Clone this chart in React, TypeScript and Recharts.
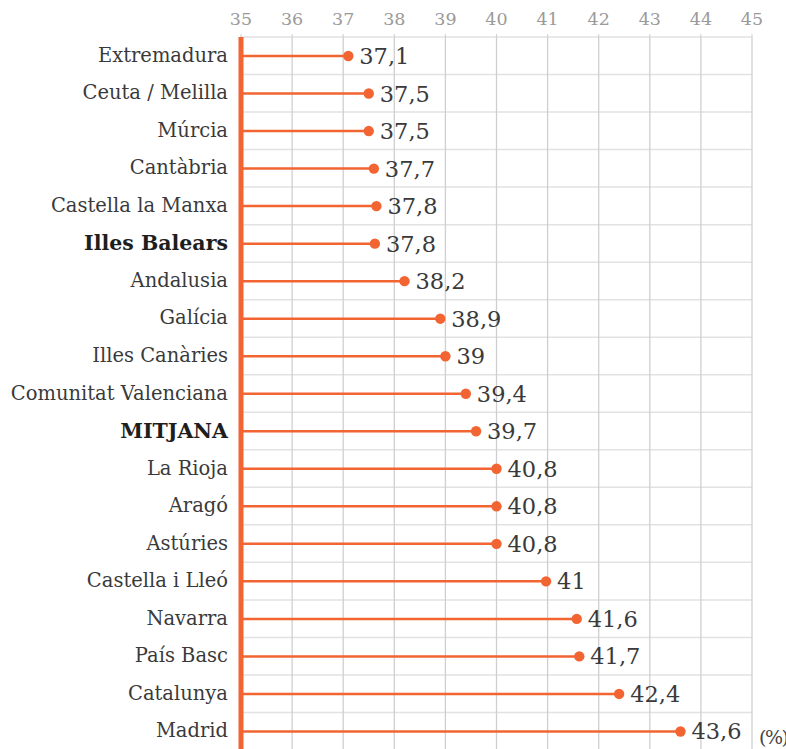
import React from "react";
import { BarChart, Bar, XAxis, YAxis, CartesianGrid, LabelList } from "recharts";

const regions = [
  "Extremadura",
  "Ceuta / Melilla",
  "Múrcia",
  "Cantàbria",
  "Castella la Manxa",
  "Illes Balears",
  "Andalusia",
  "Galícia",
  "Illes Canàries",
  "Comunitat Valenciana",
  "MITJANA",
  "La Rioja",
  "Aragó",
  "Astúries",
  "Castella i Lleó",
  "Navarra",
  "País Basc",
  "Catalunya",
  "Madrid",
];
// positions of the dots as drawn in the picture
const values = [37.1, 37.5, 37.5, 37.6, 37.65, 37.62, 38.2, 38.9, 39, 39.4, 39.6, 40, 40, 40, 40.97, 41.57, 41.62, 42.4, 43.6];
// printed value labels
const labels = ["37,1", "37,5", "37,5", "37,7", "37,8", "37,8", "38,2", "38,9", "39", "39,4", "39,7", "40,8", "40,8", "40,8", "41", "41,6", "41,7", "42,4", "43,6"];
const boldRegions = ["Illes Balears", "MITJANA"];
const xTicks = [35, 36, 37, 38, 39, 40, 41, 42, 43, 44, 45];

const data = regions.map((r, i) => ({ region: r, value: values[i], label: labels[i] }));

const ORANGE = "#f26532";
const FONT = "'DejaVu Serif', serif";

const Lollipop = (props: any) => {
  const { x, y, width, height } = props;
  const cy = y + height / 2;
  return (
    <g>
      <line x1={x} y1={cy} x2={x + width} y2={cy} stroke={ORANGE} strokeWidth={2.5} />
      <circle cx={x + width} cy={cy} r={5.2} fill={ORANGE} />
    </g>
  );
};

const CatTick = (props: any) => {
  const { x, y, payload } = props;
  const bold = boldRegions.includes(payload.value);
  return (
    <text
      x={x - 5}
      y={y}
      dy={bold ? 6.5 : 6}
      textAnchor="end"
      fontFamily={FONT}
      fontSize={bold ? 20.5 : 19.5}
      fontWeight={bold ? 700 : 300}
      fill={bold ? "#1e1e1e" : "#3a3a3a"}
    >
      {payload.value}
    </text>
  );
};

const ValueLabel = (props: any) => {
  const { x, y, width, height, value } = props;
  return (
    <text x={x + width + 11} y={y + height / 2} dy={8} fontFamily={FONT} fontSize={22.5} fill="#3a3a3a">
      {value}
    </text>
  );
};

const hGen = ({ offset }: any) => {
  const n = regions.length;
  const step = offset.height / n;
  const arr: number[] = [];
  for (let i = 0; i <= n; i++) arr.push(offset.top + i * step);
  return arr;
};

export default function App() {
  return (
    <div style={{ position: "absolute", left: 0, top: 0, width: 786, height: 749, background: "#fff", overflow: "hidden" }}>
      <BarChart
        width={786}
        height={750}
        data={data}
        layout="vertical"
        margin={{ top: 0, right: 34, bottom: 0, left: 0 }}
        barCategoryGap={0}
      >
        <CartesianGrid vertical={false} stroke="#e2e2e2" strokeWidth={1.5} horizontalCoordinatesGenerator={hGen} />
        <CartesianGrid horizontal={false} stroke="#cfcfcf" strokeWidth={1.3} />
        <XAxis
          type="number"
          orientation="top"
          domain={[35, 45]}
          ticks={xTicks}
          allowDataOverflow
          axisLine={false}
          tickLine={{ stroke: "#cfcfcf" }}
          tickSize={3}
          tick={{ fontFamily: FONT, fontSize: 17.5, fill: "#9a9a9a", fontWeight: 300 }}
          tickMargin={9}
          height={37}
          interval={0}
        />
        <YAxis
          type="category"
          dataKey="region"
          width={241}
          tick={<CatTick />}
          tickLine={false}
          axisLine={{ stroke: ORANGE, strokeWidth: 5 }}
          interval={0}
        />
        <Bar dataKey="value" shape={<Lollipop />} isAnimationActive={false}>
          <LabelList dataKey="label" content={<ValueLabel />} />
        </Bar>
      </BarChart>
      <div
        style={{
          position: "absolute",
          left: 759,
          top: 726,
          fontFamily: FONT,
          fontSize: 19,
          color: "#444",
          lineHeight: "22px",
          letterSpacing: "-1.5px",
          whiteSpace: "nowrap",
        }}
      >
        (%)
      </div>
    </div>
  );
}
